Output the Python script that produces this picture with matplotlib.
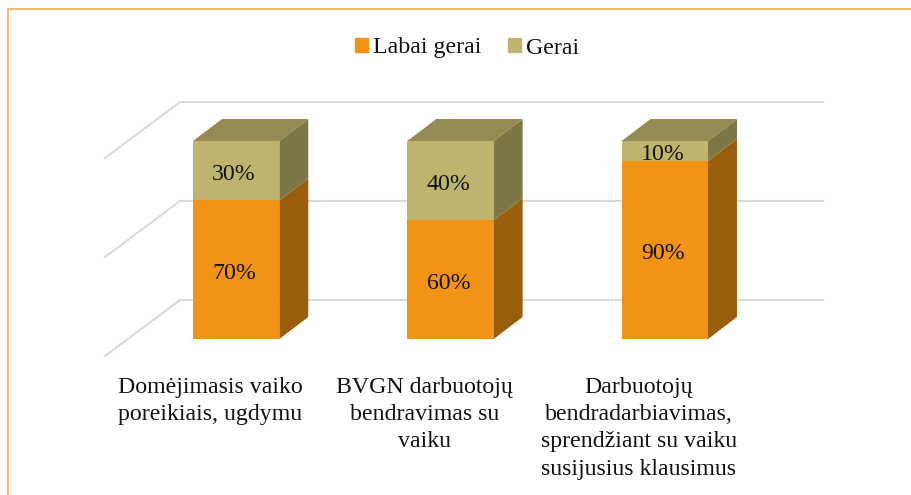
import matplotlib
matplotlib.use("Agg")
import matplotlib.pyplot as plt
from matplotlib.patches import Patch, Polygon

categories = [
    "Domėjimasis vaiko\nporeikiais, ugdymu",
    "BVGN darbuotojų\nbendravimas su\nvaiku",
    "Darbuotojų\nbendradarbiavimas,\nsprendžiant su vaiku\nsusijusius klausimus",
]
labai_gerai = [70, 60, 90]
gerai = [30, 40, 10]
grid_values = [0, 50, 100]

ORANGE = "#F29316"
ORANGE_SIDE = "#9A5F0E"
KHAKI = "#BFB46D"
KHAKI_SIDE = "#7D7647"
KHAKI_TOP = "#938A54"
GRID = "#DADADA"
BORDER = "#F5BA70"
BAR_W = 0.403
# how far the 3d depth of a bar goes, in data units
DEPTH_X = 0.135
DEPTH_Y = 11.1

plt.rcParams["font.family"] = ["Liberation Serif", "DejaVu Serif"]

fig = plt.figure(figsize=(9.12, 4.95), dpi=100)
ax = fig.add_axes([129 / 912, 156 / 495, 643 / 912, 198 / 495])
ax.set_xlim(-0.5, 2.5)
ax.set_ylim(0, 100)
ax.axis("off")


# one block of the stack: side, top and front faces
def draw_block(x, low, high, front, side, top=None):
    l, r = x - BAR_W / 2, x + BAR_W / 2
    ax.add_patch(Polygon([(r, low), (r + DEPTH_X, low + DEPTH_Y),
                          (r + DEPTH_X, high + DEPTH_Y), (r, high)],
                         facecolor=side, edgecolor="none", zorder=3, clip_on=False))
    if top:
        ax.add_patch(Polygon([(l, high), (l + DEPTH_X, high + DEPTH_Y),
                              (r + DEPTH_X, high + DEPTH_Y), (r, high)],
                             facecolor=top, edgecolor="none", zorder=3, clip_on=False))
    ax.bar(x, high - low, BAR_W, bottom=low, color=front, zorder=4)


# gridlines on the back wall and the slanted side wall
for g in grid_values:
    ax.plot([-0.612, -0.262, 2.738], [g - 8.6, g + 19.7, g + 19.7],
            color=GRID, lw=1.5, zorder=1, clip_on=False, solid_joinstyle="miter")

for i, name in enumerate(categories):
    low, high = labai_gerai[i], gerai[i]
    draw_block(i, 0, low, ORANGE, ORANGE_SIDE)
    draw_block(i, low, low + high, KHAKI, KHAKI_SIDE, KHAKI_TOP)
    ax.text(i - 0.01, low / 2 - 2, f"{low}%", ha="center", va="center",
            fontsize=17.2, color="#111111", zorder=5)
    ax.text(i - 0.01, low + high / 2 - 2, f"{high}%", ha="center", va="center",
            fontsize=17.2, color="#111111", zorder=5)
    ax.text(i - 0.122, -19.0, name, ha="center", va="top", fontsize=17.2,
            color="#111111", linespacing=1.4, clip_on=False)

handles = [Patch(color=ORANGE, label="Labai gerai"), Patch(color=KHAKI, label="Gerai")]
fig.legend(handles=handles, loc="center", bbox_to_anchor=(467 / 912, 1 - 48 / 495),
           ncol=2, frameon=False, fontsize=17.2, handlelength=0.54, handleheight=0.54,
           handletextpad=0.2, columnspacing=1.15, labelcolor="#111111")

# picture frame, only top and left are visible
fig.add_artist(plt.Line2D([8 / 912, 8 / 912, 1], [0, 1 - 9 / 495, 1 - 9 / 495],
                          color=BORDER, lw=1.5, solid_joinstyle="miter"))

fig.savefig("out.png", dpi=100)
